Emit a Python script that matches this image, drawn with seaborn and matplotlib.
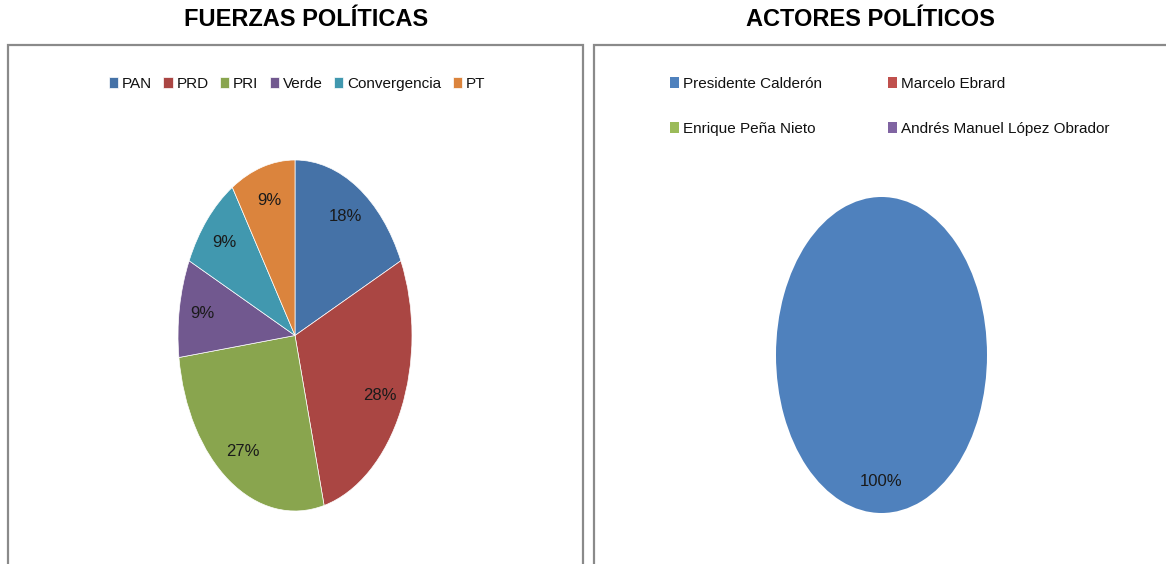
import matplotlib.pyplot as plt
import seaborn as sns
from matplotlib.patches import Rectangle

# data
parties = ["PAN", "PRD", "PRI", "Verde", "Convergencia", "PT"]
party_share = [18, 28, 27, 9, 9, 9]
party_colors = ["#4572A7", "#AA4643", "#89A54E", "#71588F", "#4198AF", "#DB843D"]

actors = ["Presidente Calderón", "Marcelo Ebrard", "Enrique Peña Nieto",
          "Andrés Manuel López Obrador"]
actor_share = [100, 0, 0, 0]
actor_colors = ["#4F81BD", "#C0504D", "#9BBB59", "#8064A2"]

W, H = 1166, 564

sns.set_theme(style="white")
plt.rcParams["font.family"] = ["Liberation Sans", "DejaVu Sans"]
plt.rcParams["text.color"] = "#111111"


def px_rect(x0, y0, x1, y1):
    # pixel box (top-left origin) -> figure fraction [left, bottom, width, height]
    return [x0 / W, 1 - y1 / H, (x1 - x0) / W, (y1 - y0) / H]


def pct_label(value):
    return f"{value:.0f}%" if value > 0.5 else ""


fig = plt.figure(figsize=(W / 100, H / 100), dpi=100)

# panel frames (bottom and right edge run off the picture)
for x0, x1 in [(8, 583), (594, 1175)]:
    left, bottom, width, height = px_rect(x0, 45, x1, 580)
    fig.patches.append(Rectangle((left, bottom), width, height, transform=fig.transFigure,
                                 fill=False, edgecolor="#8a8a8a", linewidth=1.6))

fig.text(306 / W, 1 - 20 / H, "FUERZAS POLÍTICAS", ha="center", va="center",
         fontsize=17, fontweight="bold", color="black")
fig.text(870 / W, 1 - 20 / H, "ACTORES POLÍTICOS", ha="center", va="center",
         fontsize=17, fontweight="bold", color="black")


def draw_pie(bbox, values, colors, edge_width):
    ax = fig.add_axes(px_rect(*bbox))
    wedges, _, autotexts = ax.pie(values, colors=colors, startangle=90, counterclock=False,
                                  autopct=pct_label, pctdistance=0.8,
                                  wedgeprops=dict(linewidth=edge_width, edgecolor="white"))
    for t in autotexts:
        t.set_fontsize(12)
        t.set_color("#1a1a1a")
    ax.set_aspect("auto")
    ax.set_xlim(-1, 1)
    ax.set_ylim(-1, 1)
    ax.axis("off")
    return wedges


party_wedges = draw_pie((178, 160, 412, 511), party_share, party_colors, 0.5)
actor_wedges = draw_pie((776, 197, 987, 513), actor_share, actor_colors, 0)

legend_style = dict(frameon=False, prop=dict(size=11), handlelength=0.6, handleheight=0.7,
                    handletextpad=0.25, borderpad=0, borderaxespad=0, labelcolor="#111111")

fig.legend(party_wedges, parties, loc="center", bbox_to_anchor=(297 / W, 1 - 84 / H),
           ncol=6, columnspacing=0.75, **legend_style)

# right legend: two columns placed separately
for col, x_left in enumerate([670, 888]):
    idx = [col, col + 2]
    fig.legend([actor_wedges[i] for i in idx], [actors[i] for i in idx], loc="upper left",
               bbox_to_anchor=(x_left / W, 1 - 77 / H), labelspacing=2.0, **legend_style)

fig.savefig("out.png", dpi=100)
